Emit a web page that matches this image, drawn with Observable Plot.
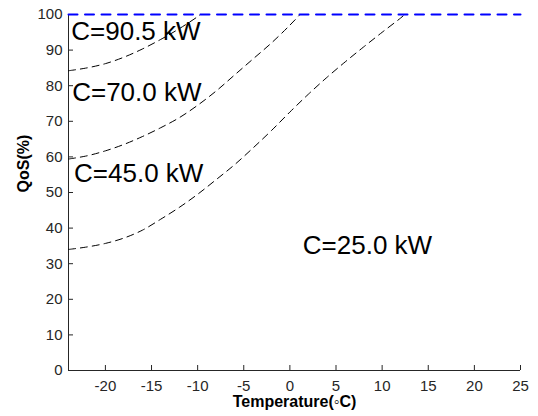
<!DOCTYPE html>
<html>
<head>
<meta charset="utf-8">
<script src="https://cdn.jsdelivr.net/npm/d3@7"></script>
<script src="https://cdn.jsdelivr.net/npm/@observablehq/plot@0.6"></script>
<style>
  html, body { margin: 0; padding: 0; background: #fff; }
  svg { display: block; }
</style>
</head>
<body>
<div id="chart"></div>
<script>
// Curve C=90.5 kW
const t905 = [-24, -22, -20, -18, -16, -14, -12, -10, -9.7];
const q905 = [84.2, 85.0, 86.2, 88.0, 90.3, 93.0, 96.0, 99.4, 100];
// Curve C=70.0 kW
const t700 = [-24, -22, -20, -18, -16, -14, -12, -10, -8, -6, -4, -2, 0, 1.1];
const q700 = [59.4, 60.3, 61.7, 63.5, 65.7, 68.2, 71.0, 74.5, 78.5, 83.0, 87.5, 92.0, 97.0, 100];
// Curve C=45.0 kW
const t450 = [-24, -22, -20, -18, -16, -14, -12, -10, -8, -6, -4, -2, 0, 2, 4, 6, 8, 10, 12, 12.45];
const q450 = [34.0, 34.7, 35.7, 37.2, 39.4, 42.5, 45.8, 49.5, 53.6, 57.8, 62.5, 67.4, 72.6, 77.6, 82.3, 86.7, 90.9, 95.0, 99.0, 100];
// Curve C=25.0 kW (at 100%)
const t250 = [-24, 25];
const q250 = [100, 100];

// Labels
const labelText = ["C=90.5 kW", "C=70.0 kW", "C=45.0 kW", "C=25.0 kW"];
const labelX = [-23.7, -23.6, -23.4, 1.4];
const labelY = [95.2, 78.1, 55.3, 35.1];

const xTicks = [-20, -15, -10, -5, 0, 5, 10, 15, 20, 25];
const yTicks = [0, 10, 20, 30, 40, 50, 60, 70, 80, 90, 100];

const toRows = (ts, qs) => ts.map((t, i) => ({t, q: qs[i]}));
const labels = labelText.map((s, i) => ({s, x: labelX[i], y: labelY[i]}));

const axisColor = "#262626";
const font = "Liberation Sans, Arial, Helvetica, sans-serif";
const W = 538, H = 416, mL = 68, mR = 18, mT = 14, mB = 46;
const frameW = W - mL - mR, frameH = H - mT - mB, tickLen = 5;

const chart = Plot.plot({
  width: W,
  height: H,
  marginLeft: mL,
  marginRight: mR,
  marginTop: mT,
  marginBottom: mB,
  style: {fontFamily: font, background: "#fff"},
  x: {domain: [-24, 25]},
  y: {domain: [0, 100]},
  marks: [
    Plot.axisX({ticks: xTicks, tickSize: 0, tickPadding: 10, tickFormat: d => String(d), fontSize: 15, color: axisColor, label: null}),
    Plot.axisY({ticks: yTicks, tickSize: 0, tickPadding: 6, tickFormat: d => String(d), fontSize: 15, color: axisColor, label: null}),
    Plot.ruleX(xTicks, {stroke: axisColor, strokeWidth: 1, insetTop: frameH - tickLen}),
    Plot.ruleY(yTicks, {stroke: axisColor, strokeWidth: 1, insetRight: frameW - tickLen}),
    Plot.ruleY([0], {stroke: axisColor, strokeWidth: 1}),
    Plot.ruleX([-24], {stroke: axisColor, strokeWidth: 1}),
    Plot.line(toRows(t905, q905), {x: "t", y: "q", stroke: "#000", strokeWidth: 1, strokeDasharray: "7,5", curve: "catmull-rom"}),
    Plot.line(toRows(t700, q700), {x: "t", y: "q", stroke: "#000", strokeWidth: 1, strokeDasharray: "7,5", curve: "catmull-rom"}),
    Plot.line(toRows(t450, q450), {x: "t", y: "q", stroke: "#000", strokeWidth: 1, strokeDasharray: "7,5", curve: "catmull-rom"}),
    Plot.line(toRows(t250, q250), {x: "t", y: "q", stroke: "#0000ff", strokeWidth: 2, strokeDasharray: "9,7.5"}),
    Plot.text(labels, {x: "x", y: "y", text: "s", textAnchor: "start", lineAnchor: "middle", fontSize: 26, fill: "#000"}),
    Plot.text(["Temperature(◦C)"], {frameAnchor: "bottom", dy: 36, fontWeight: "bold", fontSize: 16, fill: "#000"}),
    Plot.text(["QoS(%)"], {frameAnchor: "left", dx: -45, rotate: -90, fontWeight: "bold", fontSize: 16, fill: "#000"})
  ]
});
document.getElementById("chart").appendChild(chart);
</script>
</body>
</html>
